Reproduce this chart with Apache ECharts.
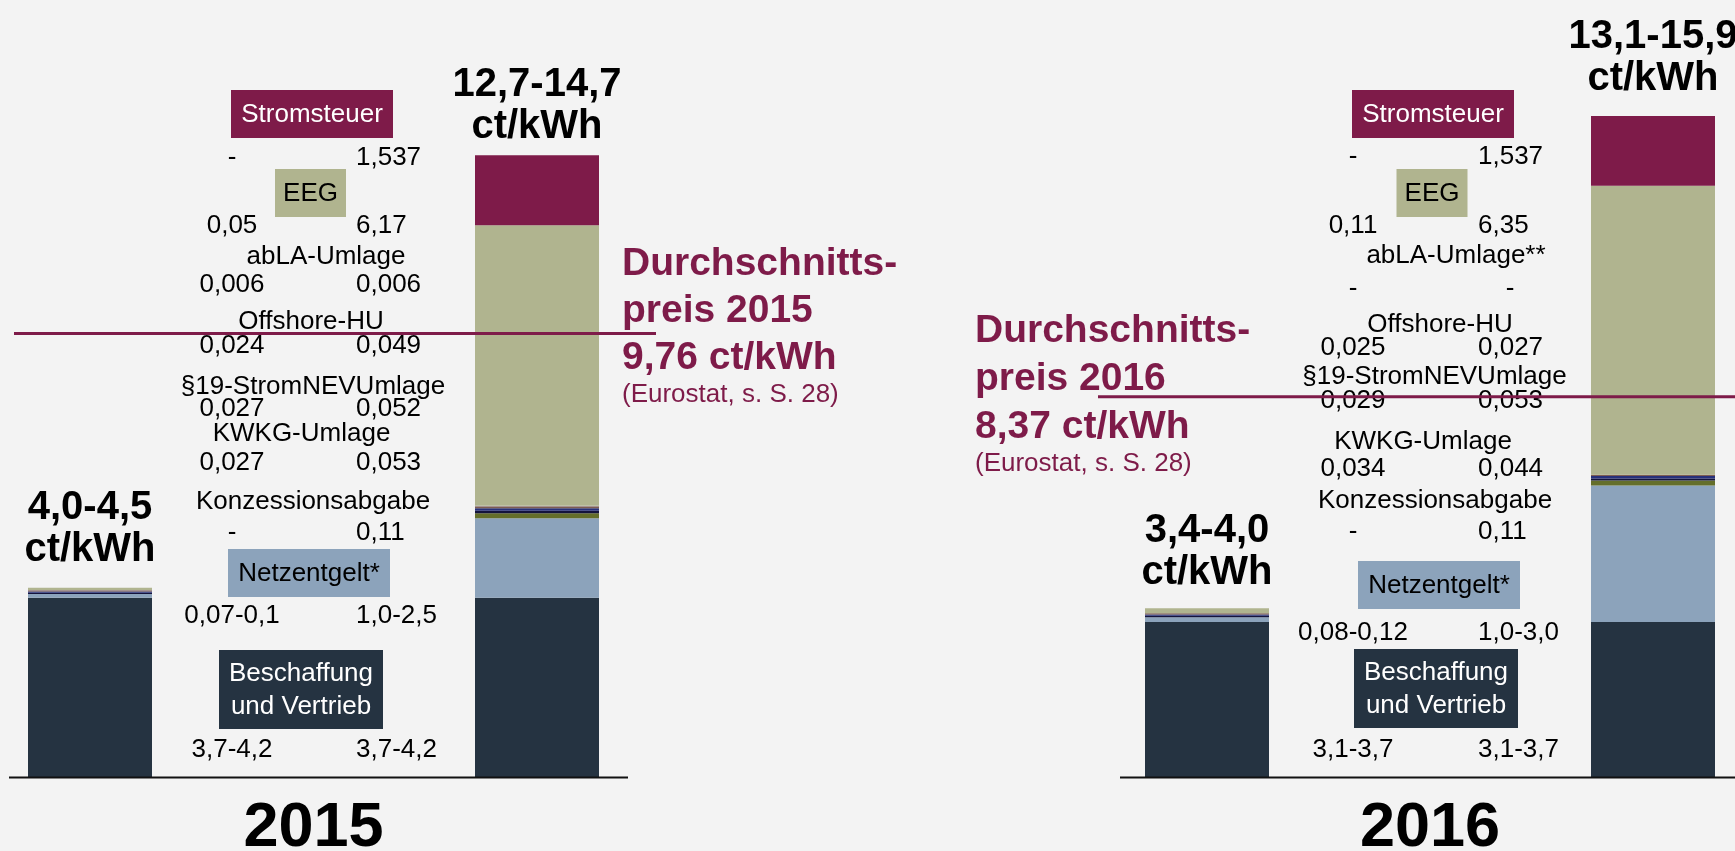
<!DOCTYPE html>
<html><head><meta charset="utf-8">
<script src="https://cdn.jsdelivr.net/npm/echarts@6/dist/echarts.min.js"></script>
<style>html,body{margin:0;padding:0;background:#f3f3f3}#c{width:1735px;height:851px}</style>
</head><body><div id="c"></div>
<script>
// ---------- data ----------
const years = ['2015', '2016'];
const barCategories = ['min', 'Bestandteile', 'max'];
const components = ['Beschaffung und Vertrieb', 'Netzentgelt', 'Konzessionsabgabe', 'KWKG-Umlage', '§19-StromNEV-Umlage', 'Offshore-HU', 'abLA-Umlage', 'EEG', 'Stromsteuer'];
const names2015 = ['Beschaffung\nund Vertrieb', 'Netzentgelt*', 'Konzessionsabgabe', 'KWKG-Umlage', '§19-StromNEVUmlage', 'Offshore-HU', 'abLA-Umlage', 'EEG', 'Stromsteuer'];
const names2016 = ['Beschaffung\nund Vertrieb', 'Netzentgelt*', 'Konzessionsabgabe', 'KWKG-Umlage', '§19-StromNEVUmlage', 'Offshore-HU', 'abLA-Umlage**', 'EEG', 'Stromsteuer'];
// bar segment values (ct/kWh), bottom to top
const min2015 = [3.95, 0.085, 0, 0.027, 0.027, 0.024, 0.006, 0.05, 0];
const max2015 = [3.95, 1.75, 0.11, 0.053, 0.052, 0.049, 0.006, 6.17, 1.537];
const min2016 = [3.42, 0.10, 0, 0.034, 0.029, 0.025, 0, 0.11, 0];
const max2016 = [3.42, 3.00, 0.11, 0.044, 0.053, 0.027, 0, 6.35, 1.537];
// value texts of the middle table
const lowText2015 = ['3,7-4,2', '0,07-0,1', '-', '0,027', '0,027', '0,024', '0,006', '0,05', '-'];
const highText2015 = ['3,7-4,2', '1,0-2,5', '0,11', '0,053', '0,052', '0,049', '0,006', '6,17', '1,537'];
const lowText2016 = ['3,1-3,7', '0,08-0,12', '-', '0,034', '0,029', '0,025', '-', '0,11', '-'];
const highText2016 = ['3,1-3,7', '1,0-3,0', '0,11', '0,044', '0,053', '0,027', '-', '6,35', '1,537'];
const totals2015 = ['4,0-4,5', '12,7-14,7'];
const totals2016 = ['3,4-4,0', '13,1-15,9'];
const avgPrice = [9.76, 8.37];

// ---------- styles / layout ----------
const FONT = "'Liberation Sans', Arial, sans-serif";
const colors = ['#253341', '#8ca3bb', '#646e2a', '#14143c', '#27307a', '#7d5d52', '#c2c6d2', '#b0b48f', '#7e1b49'];
const boxText = ['#ffffff', '#000000', null, null, null, null, null, '#000000', '#ffffff'];
const boxW = [164, 162, 0, 0, 0, 0, 0, 71, 162];
const boxH = [79, 48, 0, 0, 0, 0, 0, 48, 48];
const TXT_DY = 1.5;
const panels = [
  { grid: { left: -21.75, width: 670.5 }, base: [9, 628], avgX: [14, 656],
    nameX: [301, 309, 313, 301.5, 313, 311, 326, 310.5, 312],
    nameY: [689.5, 573, 500, 432, 385, 320, 255, 193, 114],
    valY: [748, 614, 531, 461, 407, 344, 283, 224, 156],
    leftX: 232, rightX: 356, labelDist: [16.5, 7],
    noteX: 622, noteY: [264, 311, 358, 395] },
  { grid: { left: 1095.5, width: 669 }, base: [1120, 1735], avgX: [1098, 1735],
    nameX: [1436, 1439, 1435, 1423, 1434.5, 1440, 1456, 1432, 1433],
    nameY: [688.5, 585, 499.5, 440, 375.5, 323, 254, 193, 114],
    valY: [748, 631, 530, 467, 399, 346, 287, 224, 155],
    leftX: 1353, rightX: 1478, labelDist: [14, 16],
    noteX: 975, noteY: [331.5, 379.5, 427, 464] }
];
const mins = [min2015, min2016], maxs = [max2015, max2016];
const lows = [lowText2015, lowText2016], highs = [highText2015, highText2016];
const totals = [totals2015, totals2016];
const names = [names2015, names2016];

const grids = [], xAxes = [], yAxes = [], series = [];
panels.forEach((P, p) => {
  grids.push({ left: P.grid.left, width: P.grid.width, top: 4, height: 773.5,
    containLabel: false, outerBoundsMode: 'none' });
  xAxes.push({ type: 'category', gridIndex: p, data: barCategories,
    axisLine: { show: false }, axisTick: { show: false }, axisLabel: { show: false },
    name: years[p], nameLocation: 'middle', nameGap: 20,
    nameTextStyle: { fontFamily: FONT, fontSize: 63, fontWeight: 'bold', color: '#000' } });
  yAxes.push({ type: 'value', gridIndex: p, min: 0, max: 17, show: false, splitLine: { show: false } });
  components.forEach((c, i) => {
    series.push({ type: 'bar', name: c, xAxisIndex: p, yAxisIndex: p, stack: 's' + p, stackStrategy: 'all',
      barWidth: 124, silent: true, itemStyle: { color: colors[i] },
      data: [mins[p][i], null, maxs[p][i]] });
  });
  series.push({ type: 'bar', name: 'Summe', xAxisIndex: p, yAxisIndex: p, stack: 's' + p, stackStrategy: 'all',
    barWidth: 124, silent: true, itemStyle: { color: 'transparent' },
    data: [
      { value: 0, label: { distance: P.labelDist[0], formatter: totals[p][0] + '\nct/kWh' } },
      null,
      { value: 0, label: { distance: P.labelDist[1], formatter: totals[p][1] + '\nct/kWh' } }
    ],
    label: { show: true, position: 'top', fontFamily: FONT, fontSize: 40, fontWeight: 'bold',
      lineHeight: 42, color: '#000', align: 'center' } });
});

const chart = echarts.init(document.getElementById('c'), null, { renderer: 'canvas' });
chart.setOption({
  backgroundColor: '#f3f3f3', animation: false,
  grid: grids, xAxis: xAxes, yAxis: yAxes, series: series
});

function txt(x, y, text, opt) {
  opt = opt || {};
  const align = opt.align || 'center';
  return { type: 'text', x: x, y: y, z: opt.z || 50, silent: true,
    style: { text: text, fill: opt.fill || '#000',
      font: (opt.weight || 'normal') + ' ' + (opt.size || 26) + 'px ' + FONT,
      align: align, verticalAlign: 'middle', textAlign: align, textVerticalAlign: 'middle',
      lineHeight: opt.lineHeight || undefined } };
}

const graphics = [];
panels.forEach((P, p) => {
  // baseline
  graphics.push({ type: 'line', z: 40, silent: true,
    shape: { x1: P.base[0], y1: 777.5, x2: P.base[1], y2: 777.5 },
    style: { stroke: '#111', lineWidth: 2 } });
  // table
  components.forEach((c, i) => {
    const nx = P.nameX[i], ny = P.nameY[i];
    if (boxW[i]) {
      graphics.push({ type: 'rect', z: 45, silent: true,
        shape: { x: nx - boxW[i] / 2, y: ny - boxH[i] / 2, width: boxW[i], height: boxH[i] },
        style: { fill: colors[i] } });
      graphics.push(txt(nx, ny + 1, names[p][i], { fill: boxText[i], lineHeight: 33 }));
    } else {
      graphics.push(txt(nx, ny + TXT_DY, names[p][i]));
    }
    const vy = P.valY[i] + TXT_DY;
    graphics.push(txt(P.leftX, vy, lows[p][i]));
    const h = highs[p][i];
    if (h === '-') graphics.push(txt(P.rightX + 32, vy, h));
    else graphics.push(txt(P.rightX, vy, h, { align: 'left' }));
  });
  // average price note
  const red = '#7e1b49';
  const lines = ['Durchschnitts-', 'preis ' + years[p], avgPrice[p].toFixed(2).replace('.', ',') + ' ct/kWh'];
  lines.forEach((l, k) => graphics.push(txt(P.noteX, P.noteY[k], l, { align: 'left', fill: red, weight: 'bold', size: 39 })));
  graphics.push(txt(P.noteX, P.noteY[3], '(Eurostat, s. S. 28)', { align: 'left', fill: red, size: 26 }));
  // average price line
  const yPix = chart.convertToPixel({ yAxisIndex: p }, avgPrice[p]);
  graphics.push({ type: 'line', z: 100, silent: true,
    shape: { x1: P.avgX[0], y1: yPix, x2: P.avgX[1], y2: yPix },
    style: { stroke: red, lineWidth: 3 } });
});
chart.setOption({ graphic: graphics });
</script>
</body></html>
